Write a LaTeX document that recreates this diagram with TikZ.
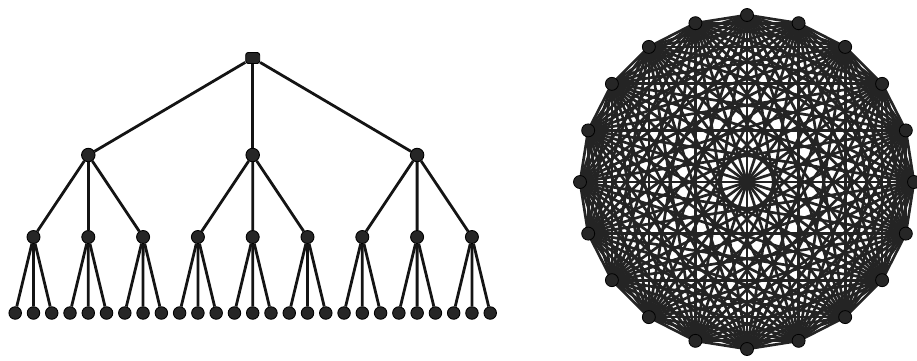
\documentclass[tikz,border=0pt]{standalone}
\usetikzlibrary{backgrounds}
\begin{document}
\begin{tikzpicture}[x=1pt,y=-1pt,
  tnode/.style={circle,fill=black!85,draw=black,line width=0.9pt,inner sep=0pt,minimum size=12.5pt},
  rootnode/.style={rounded corners=2.5pt,fill=black!85,draw=black,line width=0.9pt,inner sep=0pt,minimum width=14pt,minimum height=11pt},
  tedge/.style={line width=2.8pt,black!92},
  gnode/.style={circle,fill=black!85,draw=black,line width=0.8pt,inner sep=0pt,minimum size=13pt},
  gedge/.style={line width=2.7pt,black!86}]
\useasboundingbox (0,0) rectangle (917,360);
% tree
\node[rootnode] (r) at (252.7,58) {};
\foreach \k in {0,1,2} {
  \pgfmathsetmacro\xa{88.3+164.4*\k}
  \node[tnode,minimum size=13.5pt] (a\k) at (\xa,155) {};
}
\foreach \k in {0,...,8} {
  \pgfmathsetmacro\xb{33.5+54.8*\k}
  \node[tnode,minimum size=13pt] (b\k) at (\xb,237) {};
}
\foreach \k in {0,...,26} {
  \pgfmathsetmacro\xc{15.2+18.27*\k}
  \node[tnode] (c\k) at (\xc,313) {};
}
\begin{pgfonlayer}{background}
\foreach \k in {0,1,2} \draw[tedge] (r) -- (a\k);
\foreach \k in {0,...,8} {
  \pgfmathtruncatemacro\p{div(\k,3)}
  \draw[tedge] (a\p) -- (b\k);
}
\foreach \k in {0,...,26} {
  \pgfmathtruncatemacro\p{div(\k,3)}
  \draw[tedge] (b\p) -- (c\k);
}
\end{pgfonlayer}
% complete graph
\foreach \i in {0,...,19} {
  \pgfmathsetmacro\ang{-90+18*\i}
  \node[gnode] (g\i) at ([shift={(747,182)}]\ang:167) {};
}
\begin{pgfonlayer}{background}
\foreach \i in {0,...,18} {
  \pgfmathtruncatemacro\s{\i+1}
  \foreach \j in {\s,...,19} \draw[gedge] (g\i.center) -- (g\j.center);
}
\end{pgfonlayer}
\end{tikzpicture}
\end{document}
